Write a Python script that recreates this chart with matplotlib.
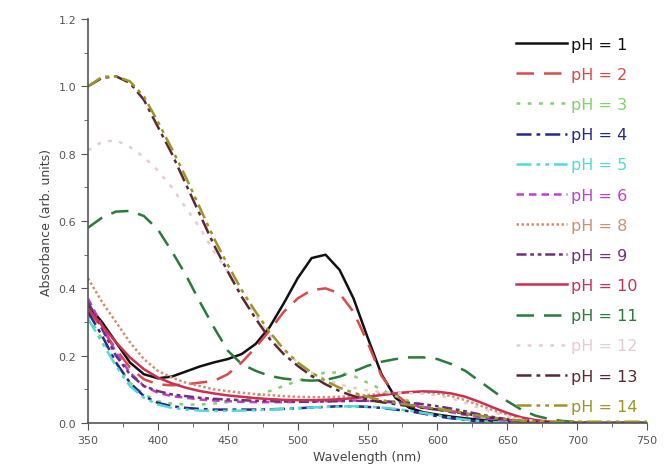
import numpy as np
import matplotlib
matplotlib.use("Agg")
import matplotlib.pyplot as plt

# wavelength grid (nm)
wavelength = list(range(350, 751, 10))

z5 = [0, 0, 0, 0, 0]

ph1 = [0.35, 0.30, 0.24, 0.18, 0.145, 0.133, 0.138, 0.153, 0.168, 0.18, 0.19, 0.205, 0.235, 0.285, 0.355,
       0.43, 0.49, 0.50, 0.455, 0.37, 0.255, 0.145, 0.075, 0.045, 0.032, 0.025, 0.019, 0.014, 0.01, 0.007,
       0.005, 0.003, 0.002, 0.001, 0.001, 0] + z5
ph2 = [0.34, 0.28, 0.22, 0.165, 0.13, 0.115, 0.112, 0.115, 0.12, 0.125, 0.145, 0.18, 0.225, 0.275, 0.33,
       0.37, 0.395, 0.40, 0.385, 0.33, 0.24, 0.14, 0.085, 0.055, 0.045, 0.04, 0.035, 0.03, 0.022, 0.015,
       0.01, 0.006, 0.003, 0.002, 0.001, 0] + z5
ph3 = [0.32, 0.25, 0.18, 0.12, 0.085, 0.065, 0.058, 0.055, 0.055, 0.058, 0.062, 0.07, 0.08, 0.095, 0.11,
       0.125, 0.14, 0.15, 0.15, 0.14, 0.12, 0.10, 0.08, 0.065, 0.055, 0.045, 0.035, 0.027, 0.02, 0.014,
       0.009, 0.005, 0.003, 0.002, 0.001, 0] + z5
ph4 = [0.33, 0.26, 0.18, 0.12, 0.08, 0.06, 0.05, 0.045, 0.042, 0.04, 0.04, 0.04, 0.04, 0.041, 0.042,
       0.044, 0.046, 0.048, 0.05, 0.05, 0.048, 0.045, 0.04, 0.035, 0.028, 0.02, 0.014, 0.009, 0.005, 0.003,
       0.002, 0.001, 0, 0, 0, 0] + z5
ph5 = [0.31, 0.24, 0.17, 0.11, 0.075, 0.055, 0.045, 0.04, 0.037, 0.036, 0.036, 0.037, 0.038, 0.04, 0.042,
       0.044, 0.046, 0.048, 0.049, 0.05, 0.049, 0.046, 0.042, 0.037, 0.03, 0.023, 0.016, 0.01, 0.006, 0.003,
       0.002, 0.001, 0, 0, 0, 0] + z5
ph6 = [0.37, 0.29, 0.21, 0.15, 0.11, 0.09, 0.08, 0.075, 0.07, 0.067, 0.065, 0.063, 0.062, 0.062, 0.062,
       0.063, 0.064, 0.065, 0.066, 0.067, 0.066, 0.064, 0.06, 0.055, 0.048, 0.04, 0.032, 0.024, 0.017, 0.011,
       0.007, 0.004, 0.002, 0.001, 0, 0] + z5
ph8 = [0.43, 0.36, 0.30, 0.24, 0.19, 0.155, 0.135, 0.12, 0.11, 0.10, 0.095, 0.09, 0.086, 0.083, 0.08,
       0.078, 0.077, 0.077, 0.078, 0.08, 0.083, 0.087, 0.09, 0.092, 0.092, 0.088, 0.08, 0.068, 0.053, 0.038,
       0.025, 0.015, 0.008, 0.004, 0.002, 0.001] + z5
ph9 = [0.36, 0.28, 0.20, 0.145, 0.11, 0.095, 0.085, 0.08, 0.075, 0.072, 0.07, 0.068, 0.066, 0.065, 0.064,
       0.063, 0.063, 0.064, 0.065, 0.066, 0.066, 0.065, 0.063, 0.06, 0.056, 0.05, 0.043, 0.035, 0.026, 0.018,
       0.011, 0.006, 0.003, 0.001, 0, 0] + z5
ph10 = [0.34, 0.29, 0.24, 0.195, 0.16, 0.135, 0.118, 0.105, 0.095, 0.088, 0.082, 0.078, 0.074, 0.071, 0.069,
        0.068, 0.068, 0.069, 0.071, 0.074, 0.078, 0.083, 0.088, 0.092, 0.094, 0.093, 0.088, 0.078, 0.063, 0.046,
        0.03, 0.017, 0.009, 0.004, 0.002, 0.001] + z5
ph11 = [0.58, 0.61, 0.628, 0.63, 0.615, 0.575, 0.51, 0.44, 0.36, 0.285, 0.215, 0.175, 0.155, 0.14, 0.132,
        0.128, 0.126, 0.128, 0.138, 0.153, 0.17, 0.182, 0.19, 0.195, 0.195, 0.19, 0.175, 0.155, 0.125, 0.095,
        0.065, 0.04, 0.022, 0.012, 0.006, 0.003] + [0.001, 0, 0, 0, 0]
ph12 = [0.81, 0.835, 0.84, 0.82, 0.79, 0.75, 0.70, 0.64, 0.58, 0.51, 0.45, 0.38, 0.32, 0.26, 0.22,
        0.18, 0.15, 0.13, 0.115, 0.105, 0.097, 0.092, 0.09, 0.089, 0.087, 0.082, 0.073, 0.06, 0.045, 0.032,
        0.02, 0.012, 0.006, 0.003, 0.001, 0] + z5
ph13 = [1.0, 1.025, 1.03, 1.01, 0.96, 0.88, 0.80, 0.71, 0.62, 0.53, 0.45, 0.375, 0.31, 0.25, 0.205,
        0.17, 0.14, 0.115, 0.095, 0.08, 0.07, 0.062, 0.056, 0.05, 0.045, 0.04, 0.034, 0.028, 0.021, 0.015,
        0.01, 0.006, 0.003, 0.002, 0.001, 0] + z5
ph14 = [1.0, 1.028, 1.03, 1.015, 0.97, 0.895, 0.815, 0.73, 0.64, 0.55, 0.47, 0.395, 0.33, 0.27, 0.22,
        0.18, 0.15, 0.125, 0.105, 0.09, 0.078, 0.068, 0.06, 0.054, 0.048, 0.042, 0.036, 0.029, 0.022, 0.016,
        0.011, 0.007, 0.005, 0.004, 0.004, 0.004, 0.004, 0.004, 0.004, 0.004, 0.004]

labels = ['pH = 1', 'pH = 2', 'pH = 3', 'pH = 4', 'pH = 5', 'pH = 6', 'pH = 8',
          'pH = 9', 'pH = 10', 'pH = 11', 'pH = 12', 'pH = 13', 'pH = 14']
series = [ph1, ph2, ph3, ph4, ph5, ph6, ph8, ph9, ph10, ph11, ph12, ph13, ph14]

colors = ['#111111', '#d94a4a', '#7fd36a', '#28288c', '#55d8d8', '#c040d0', '#d09070',
          '#6e3278', '#cc3050', '#2a7a3c', '#e4cdd2', '#5a2832', '#9a9628']
styles = ['-', (0, (7, 4)), (0, (1.5, 3)), (0, (6, 2, 1.5, 2)), (0, (6, 2, 1.5, 2, 1.5, 2)),
          (0, (3, 2)), (0, (1, 1)), (0, (4, 1.5, 1.5, 1.5, 1.5, 1.5)), '-', (0, (7, 4)),
          (0, (1.5, 3)), (0, (6, 2, 1.5, 2)), (0, (6, 2, 1.5, 2, 1.5, 2))]

fig = plt.figure(figsize=(6.65, 4.77), dpi=100)
ax = fig.add_axes([0.1323, 0.111, 0.8407, 0.847])

for y, lab, c, ls in zip(series, labels, colors, styles):
    ax.plot(wavelength, y, color=c, linestyle=ls, linewidth=1.8, label=lab)

ax.set_xlim(350, 750)
ax.set_ylim(0, 1.2)
ax.set_xticks(np.arange(350, 751, 50))
ax.set_xticks(np.arange(375, 751, 50), minor=True)
ax.set_yticks(np.arange(0, 1.21, 0.2))
ax.set_yticks(np.arange(0.1, 1.2, 0.2), minor=True)
ax.yaxis.set_major_formatter(matplotlib.ticker.FormatStrFormatter('%.1f'))
ax.spines['top'].set_visible(False)
ax.spines['right'].set_visible(False)
for s in ['left', 'bottom']:
    ax.spines[s].set_color('#555555')
    ax.spines[s].set_linewidth(1.2)
ax.tick_params(which='major', direction='out', length=5, color='#555555', labelsize=8, labelcolor='#555555')
ax.tick_params(which='minor', direction='out', length=3, color='#555555')

ax.set_xlabel('Wavelength (nm)', fontsize=9, color='#444444')
ax.set_ylabel('Absorbance (arb. units)', fontsize=9, color='#444444')

leg = ax.legend(loc='upper right', bbox_to_anchor=(1.0, 0.98), frameon=False, fontsize=11.5,
                handlelength=3.2, handletextpad=0.25, labelspacing=0.95, labelcolor='linecolor',
                borderaxespad=0.2)

fig.savefig('out.png', dpi=100)
